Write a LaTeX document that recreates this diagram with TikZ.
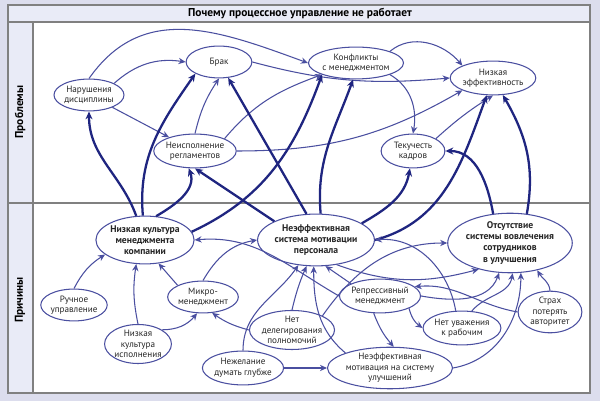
\documentclass[tikz,border=0pt]{standalone}
\usepackage{fontspec}
\setmainfont{PT Sans}
\usetikzlibrary{shapes.geometric,arrows.meta}
\definecolor{navy}{HTML}{1F2580}
\definecolor{ell}{HTML}{4A4FA0}
\definecolor{bg}{HTML}{DCDDED}
\definecolor{strip}{HTML}{E9EBF7}
\begin{document}
\begin{tikzpicture}[x=0.02cm,y=-0.02cm,
  n/.style={ellipse,draw=ell,line width=0.6pt,fill=white,inner sep=0pt,align=center,font=\fontsize{5.2}{6}\selectfont,text=black!85},
  b/.style={n,font=\fontsize{5.5}{6.3}\selectfont\bfseries},
  sz/.style 2 args={minimum width=#1*0.567pt,minimum height=#2*0.567pt},
  t/.style={-{Stealth[length=4pt,width=3.6pt]},draw=ell,line width=0.6pt},
  k/.style={-{Stealth[length=4.5pt,width=4pt]},draw=navy,line width=1.3pt}]
\fill[bg] (0,0) rectangle (600,401);
\useasboundingbox (0,0) rectangle (600,401);
\fill[white] (8,5) rectangle (590,393);
\fill[strip] (8,5) rectangle (590,22);
\fill[strip] (8,22) rectangle (33,393);
\draw[gray,line width=0.7pt] (8,5) rectangle (590,393);
\draw[gray,line width=0.7pt] (8,22) -- (590,22) (33,22) -- (33,393) (8,203) -- (590,203);
\node[font=\fontsize{6.5}{7}\selectfont\bfseries] (title) at (300,13.5) {Почему процессное управление не работает};
\node[rotate=90,font=\fontsize{6.5}{7}\selectfont\bfseries] (pr) at (20,112) {Проблемы};
\node[rotate=90,font=\fontsize{6.5}{7}\selectfont\bfseries] (pc) at (20,300) {Причины};
% problems
\node[n,sz={66}{32}] (brak) at (219,62) {Брак};
\node[n,sz={64}{32}] (nar) at (89,95) {Нарушения\\дисциплины};
\node[n,sz={66}{32}] (konf) at (356,63) {Конфликты\\с менеджментом};
\node[n,sz={64}{34}] (eff) at (493,78) {Низкая\\эффективность};
\node[n,sz={64}{34}] (neisp) at (195,151) {Неисполнение\\регламентов};
\node[n,sz={64}{34}] (tek) at (413,151) {Текучесть\\кадров};
% causes
\node[b,sz={84}{48}] (kult) at (145,240) {Низкая культура\\менеджмента\\компании};
\node[b,sz={92}{52}] (sist) at (316,240) {Неэффективная\\система мотивации\\персонала};
\node[b,sz={90}{52}] (ots) at (510,243) {Отсутствие\\системы вовлечения\\сотрудников\\в улучшения};
\node[n,sz={64}{32}] (ruch) at (74,305) {Ручное\\управление};
\node[n,sz={64}{34}] (isp) at (138,344) {Низкая\\культура\\исполнения};
\node[n,sz={64}{32}] (mik) at (203,297) {Микро-\\менеджмент};
\node[n,sz={66}{36}] (deleg) at (292,330) {Нет\\делегирования\\полномочий};
\node[n,sz={64}{34}] (rep) at (380,296) {Репрессивный\\менеджмент};
\node[n,sz={64}{34}] (uv) at (462,328) {Нет уважения\\к рабочим};
\node[n,sz={64}{36}] (str) at (550,312) {Страх\\потерять\\авторитет};
\node[n,sz={64}{34}] (nezh) at (243,368) {Нежелание\\думать глубже};
\node[n,sz={90}{34}] (mot) at (390,368) {Неэффективная\\мотивация на систему\\улучшений};
% thin problem links
\draw[t] (nar.north east) to[bend left=25] (brak.west);
\draw[t] (nar) -- (neisp);
\draw[t] (nar.north) to[out=55,in=160,looseness=1.1] (konf.west);
\draw[t] (neisp.north) to[bend left=10] (brak.south);
\draw[t] (neisp.north east) to[out=50,in=200] (konf.south west);
\draw[t] (neisp.east) to[out=0,in=210] (eff.south west);
\draw[t] (brak.east) to[out=-15,in=185] (eff.west);
\draw[t] (konf.north east) to[out=40,in=130] (eff.north west);
\draw[t] (konf.south east) to[out=-30,in=80] (tek.north);
\draw[t] (tek.north east) to[bend left=5] (eff.south);
% thick cause->problem
\draw[k] (kult.110) to[out=110,in=-90] (nar.south);
\draw[k] (kult.95) to[out=95,in=235] (brak.south west);
\draw[k] (kult.65) to[out=30,in=-70] (neisp.250);
\draw[k] (kult.10) to[out=25,in=250] (konf.south west);
\draw[k] (sist.north west) -- (neisp.south);
\draw[k] (sist.110) -- (brak.300);
\draw[k] (sist.80) to[out=95,in=250] (konf.260);
\draw[k] (sist.20) to[out=30,in=-100] (tek.260);
\draw[k] (sist.east) to[out=15,in=250] (eff.250);
\draw[k] (ots.120) to[out=100,in=0] (tek.east);
\draw[k] (ots.60) to[out=80,in=-60] (eff.300);
% thin cause links
\draw[t] (ruch.north) to[bend left=15] (kult.200);
\draw[t] (isp.north) to[bend left=10] (kult.250);
\draw[t] (isp.north east) to[bend right=25] (mik.250);
\draw[t] (mik.north west) -- (kult.300);
\draw[t] (mik.north) to[out=60,in=190] (sist.west);
\draw[t] (deleg.west) to[bend left=10] (mik.300);
\draw[t] (deleg.north) to[bend left=5] (sist.250);
\draw[t] (nezh.north) to[out=90,in=235] (sist.235);
\draw[t] (nezh.east) -- (mot.west);
\draw[t] (rep.west) to[out=150,in=5] (kult.east);
\draw[t] (rep.north west) -- (sist.290);
\draw[t] (rep.250) to[bend right=10] (mot.80);
\draw[t] (rep.south east) to[bend right=20] (uv.west);
\draw[t] (rep.east) to[out=-10,in=250] (ots.250);
\draw[t] (sist.310) to[out=-20,in=195] (ots.220);
\draw[t] (deleg.north east) to[out=55,in=180] (ots.west);
\draw[t] (uv.110) to[out=100,in=5] (sist.east);
\draw[t] (uv.60) to[out=50,in=260] (ots.275);
\draw[t] (mot.north west) to[out=140,in=-90] (sist.265);
\draw[t] (mot.east) to[out=10,in=-90] (ots.290);
\draw[t] (str.north) to[out=95,in=-60] (ots.315);
\draw[t] (str.west) to[out=170,in=5] (rep.15);
\end{tikzpicture}
\end{document}
